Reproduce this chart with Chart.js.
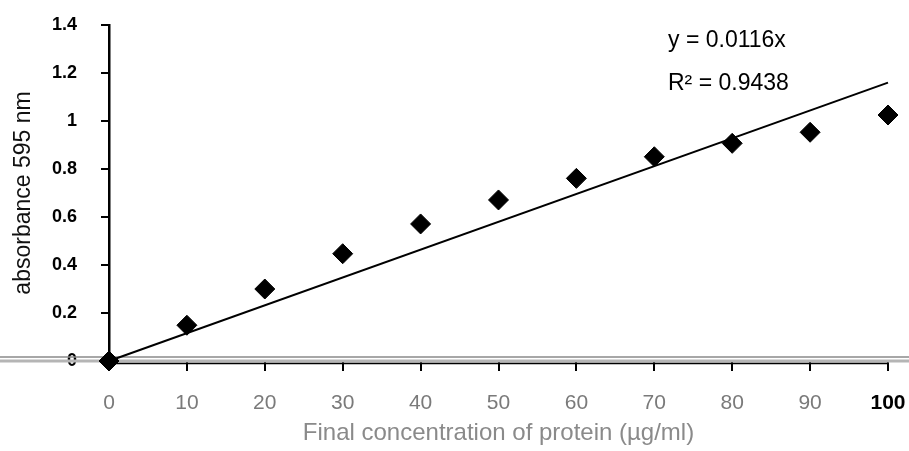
<!DOCTYPE html>
<html>
<head>
<meta charset="utf-8">
<script src="https://cdn.jsdelivr.net/npm/chart.js@4/dist/chart.umd.min.js"></script>
<style>
  html, body { margin: 0; padding: 0; background: #fff; }
  #wrap { width: 909px; height: 451px; }
</style>
</head>
<body>
<div id="wrap"><canvas id="chart" width="909" height="451"></canvas></div>
<script>
// measured points (µg/ml vs absorbance at 595 nm)
const concentration = [0, 10, 20, 30, 40, 50, 60, 70, 80, 90, 100];
const absorbance = [0, 0.149, 0.30, 0.447, 0.571, 0.671, 0.761, 0.851, 0.907, 0.953, 1.025];

// linear trendline through the origin, y = 0.0116x
const trendX = [0, 100];
const trendY = [0, 1.16];

const equationText = 'y = 0.0116x';
const rSquaredText = 'R² = 0.9438';

const xTickStep = 10;
const yTickStep = 0.2;

const FONT = "'Liberation Sans', Arial, sans-serif";

// grey double rule along y = 0, across the whole width like the scan
const baselinePlugin = {
  id: 'baseline',
  beforeDatasetsDraw(chart) {
    const ctx = chart.ctx;
    const y0 = chart.scales.y.getPixelForValue(0);
    ctx.save();
    ctx.strokeStyle = '#8a8a8a';
    ctx.lineWidth = 1.5;
    ctx.beginPath();
    ctx.moveTo(0, y0 - 4);
    ctx.lineTo(chart.width, y0 - 4);
    ctx.stroke();
    ctx.strokeStyle = '#b5b5b5';
    ctx.lineWidth = 3;
    ctx.beginPath();
    ctx.moveTo(0, y0);
    ctx.lineTo(chart.width, y0);
    ctx.stroke();
    ctx.strokeStyle = '#000';
    ctx.lineWidth = 1.5;
    ctx.beginPath();
    ctx.moveTo(chart.scales.x.left, y0 + 2.5);
    ctx.lineTo(chart.scales.x.right, y0 + 2.5);
    ctx.stroke();
    ctx.restore();
  }
};

const equationPlugin = {
  id: 'equation',
  afterDraw(chart) {
    const ctx = chart.ctx;
    ctx.save();
    ctx.fillStyle = '#000';
    ctx.font = '23px ' + FONT;
    ctx.textAlign = 'left';
    ctx.textBaseline = 'middle';
    ctx.fillText(equationText, 668, 41);
    ctx.fillText(rSquaredText, 668, 84);
    ctx.restore();
  }
};

new Chart(document.getElementById('chart'), {
  type: 'scatter',
  data: {
    datasets: [
      {
        label: 'absorbance',
        data: concentration.map((c, i) => ({ x: c, y: absorbance[i] })),
        pointStyle: 'rectRot',
        pointRadius: 10,
        pointHoverRadius: 10,
        backgroundColor: '#000',
        borderColor: '#000',
        borderWidth: 1,
        clip: false,
        order: 0,
      },
      {
        type: 'line',
        label: 'trend',
        data: trendX.map((x, i) => ({ x: x, y: trendY[i] })),
        borderColor: '#000',
        borderWidth: 2,
        pointRadius: 0,
        fill: false,
        clip: false,
        order: 1,
      },
    ],
  },
  options: {
    responsive: false,
    animation: false,
    events: [],
    layout: { padding: { top: 25, right: 21, left: 0, bottom: 0 } },
    plugins: {
      legend: { display: false },
      tooltip: { enabled: false },
    },
    scales: {
      x: {
        type: 'linear',
        min: 0,
        max: 100,
        afterFit: (scale) => {
          scale.height = 90;
          // labels may hang past the plot edges, as in the original
          scale.paddingLeft = 0;
          scale.paddingRight = 0;
        },
        border: { display: false },
        grid: {
          drawOnChartArea: false,
          drawTicks: true,
          tickLength: 10,
          color: '#000',
          lineWidth: 2,
        },
        ticks: {
          stepSize: xTickStep,
          padding: 20,
          color: (c) => (c.tick && c.tick.value === 100 ? '#000' : '#7a7a7a'),
          font: (c) => ({
            family: FONT,
            size: 21,
            weight: c.tick && c.tick.value === 100 ? 'bold' : 'normal',
          }),
        },
        title: {
          display: true,
          text: 'Final concentration of protein (µg/ml)',
          color: '#8a8a8a',
          font: { family: FONT, size: 24 },
          padding: { top: 0, bottom: 3 },
        },
      },
      y: {
        type: 'linear',
        min: 0,
        max: 1.4,
        afterFit: (scale) => {
          scale.width = 109;
          scale.paddingTop = 0;
          scale.paddingBottom = 0;
        },
        border: { display: true, color: '#000', width: 2.5 },
        grid: {
          drawOnChartArea: false,
          drawTicks: true,
          tickLength: 8,
          color: '#000',
          lineWidth: 2,
        },
        ticks: {
          stepSize: yTickStep,
          padding: 24,
          color: '#000',
          font: { family: FONT, size: 18, weight: 'bold' },
          callback: (v) => String(+v.toFixed(1)),
        },
        title: {
          display: true,
          text: 'absorbance 595 nm',
          color: '#111',
          font: { family: FONT, size: 23 },
          padding: { top: 10, bottom: 0 },
        },
      },
    },
  },
  plugins: [baselinePlugin, equationPlugin],
});
</script>
</body>
</html>
